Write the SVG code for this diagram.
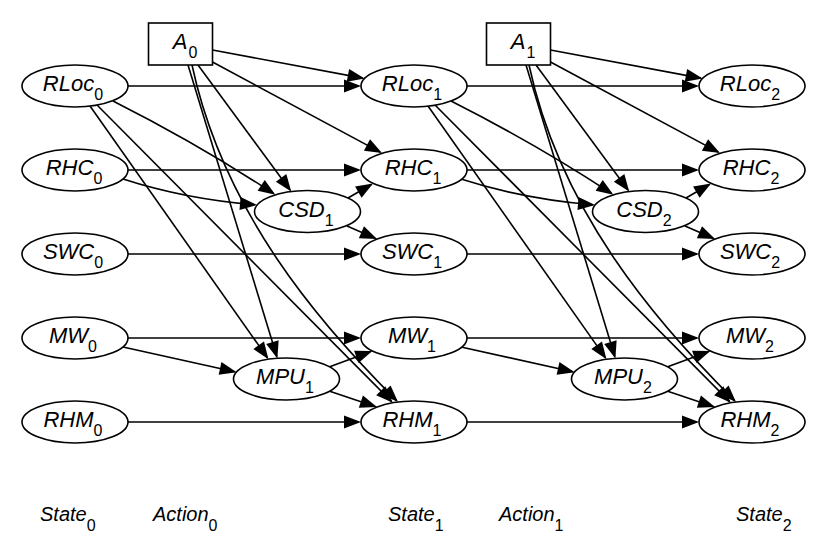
<svg xmlns="http://www.w3.org/2000/svg" width="830" height="554" viewBox="0 0 830 554">
<style>
  .node ellipse, .node rect { fill:#fff; stroke:#000; stroke-width:1.6; }
  .lbl { font-family:"Liberation Sans", Arial, Helvetica, sans-serif; font-style:italic; font-size:22px; text-anchor:middle; fill:#000; }
  .sub { font-size:16px; font-style:normal; }
  .cap { font-family:"Liberation Sans", Arial, Helvetica, sans-serif; font-style:italic; font-size:20px; fill:#000; }
  .edge { fill:none; stroke:#000; stroke-width:1.6; marker-end:url(#ah); }
</style>
<defs>
  <marker id="ah" viewBox="-16 -8 19 16" refX="0" refY="0" markerWidth="19" markerHeight="16" markerUnits="userSpaceOnUse" orient="auto">
    <path d="M2,0 L-15,-6.5 L-15,6.5 Z" fill="#000"/>
  </marker>
</defs>
<rect width="830" height="554" fill="#fff"/>

<g id="connectors">
  <g id="slice0-edges">
    <path class="edge" d="M212.5,50 L362.7,78.1"/>
    <path class="edge" d="M128,86 L359,86"/>
    <path class="edge" d="M212.5,62 L380.2,152.1"/>
    <path class="edge" d="M198,65 L290,190"/>
    <path class="edge" d="M188,65 L276.8,356.5"/>
    <path class="edge" d="M192,65 C223.5,212 318.8,322.8 396.6,400.6"/>
    <path class="edge" d="M90,106 L267.3,357.6"/>
    <path class="edge" d="M97,105 L391.4,401.4"/>
    <path class="edge" d="M113,101 Q200,145 273.7,193.7"/>
    <path class="edge" d="M128,170 L359,170"/>
    <path class="edge" d="M123,179 Q185,199 255,204.8"/>
    <path class="edge" d="M348,198 L371.3,184.5"/>
    <path class="edge" d="M347,226 L375.2,238.2"/>
    <path class="edge" d="M128,254 L359,254"/>
    <path class="edge" d="M128,338 L359,338"/>
    <path class="edge" d="M123,347 L234.7,371.7"/>
    <path class="edge" d="M329,367 L370.4,351.7"/>
    <path class="edge" d="M329,391 L375.1,406.4"/>
    <path class="edge" d="M128,422 L359,422"/>
  </g>
  <g id="slice1-edges" transform="translate(338,0)">
    <path class="edge" d="M212.5,50 L362.7,78.1"/>
    <path class="edge" d="M128,86 L359,86"/>
    <path class="edge" d="M212.5,62 L380.2,152.1"/>
    <path class="edge" d="M198,65 L290,190"/>
    <path class="edge" d="M188,65 L276.8,356.5"/>
    <path class="edge" d="M191,65 C222.5,212 318.8,322.8 396.6,400.6"/>
    <path class="edge" d="M90,106 L267.3,357.6"/>
    <path class="edge" d="M97,105 L391.4,401.4"/>
    <path class="edge" d="M113,101 Q200,145 273.7,193.7"/>
    <path class="edge" d="M128,170 L359,170"/>
    <path class="edge" d="M123,179 Q185,199 255,204.8"/>
    <path class="edge" d="M348,198 L371.3,184.5"/>
    <path class="edge" d="M347,226 L375.2,238.2"/>
    <path class="edge" d="M128,254 L359,254"/>
    <path class="edge" d="M128,338 L359,338"/>
    <path class="edge" d="M123,347 L234.7,371.7"/>
    <path class="edge" d="M329,367 L370.4,351.7"/>
    <path class="edge" d="M329,391 L375.1,406.4"/>
    <path class="edge" d="M128,422 L359,422"/>
  </g>
</g>

<g id="A0" class="node"><rect x="148.5" y="23" width="64" height="42"/><text class="lbl" x="185" y="49">A<tspan class="sub" dx="1" dy="9">0</tspan></text></g>
<g id="A1" class="node"><rect x="486.5" y="23" width="64" height="42"/><text class="lbl" x="523" y="49">A<tspan class="sub" dx="1" dy="9">1</tspan></text></g>

<g id="RLoc0" class="node"><ellipse cx="75" cy="86" rx="53" ry="21"/><text class="lbl" x="73" y="91">RLoc<tspan class="sub" dy="9">0</tspan></text></g>
<g id="RHC0" class="node"><ellipse cx="75" cy="170" rx="53" ry="21"/><text class="lbl" x="74" y="175">RHC<tspan class="sub" dy="9">0</tspan></text></g>
<g id="SWC0" class="node"><ellipse cx="75" cy="254" rx="53" ry="21"/><text class="lbl" x="73" y="259">SWC<tspan class="sub" dy="9">0</tspan></text></g>
<g id="MW0" class="node"><ellipse cx="75" cy="338" rx="53" ry="21"/><text class="lbl" x="73" y="343">MW<tspan class="sub" dy="9">0</tspan></text></g>
<g id="RHM0" class="node"><ellipse cx="75" cy="422" rx="53" ry="21"/><text class="lbl" x="73" y="427">RHM<tspan class="sub" dy="9">0</tspan></text></g>

<g id="CSD1" class="node"><ellipse cx="307.5" cy="211.5" rx="53" ry="21"/><text class="lbl" x="306" y="216.5">CSD<tspan class="sub" dy="9">1</tspan></text></g>
<g id="MPU1" class="node"><ellipse cx="286.5" cy="379" rx="53" ry="21"/><text class="lbl" x="285" y="384">MPU<tspan class="sub" dy="9">1</tspan></text></g>

<g id="RLoc1" class="node"><ellipse cx="414" cy="86" rx="53" ry="21"/><text class="lbl" x="412" y="91">RLoc<tspan class="sub" dy="9">1</tspan></text></g>
<g id="RHC1" class="node"><ellipse cx="414" cy="170" rx="53" ry="21"/><text class="lbl" x="413" y="175">RHC<tspan class="sub" dy="9">1</tspan></text></g>
<g id="SWC1" class="node"><ellipse cx="414" cy="254" rx="53" ry="21"/><text class="lbl" x="412" y="259">SWC<tspan class="sub" dy="9">1</tspan></text></g>
<g id="MW1" class="node"><ellipse cx="414" cy="338" rx="53" ry="21"/><text class="lbl" x="412" y="343">MW<tspan class="sub" dy="9">1</tspan></text></g>
<g id="RHM1" class="node"><ellipse cx="414" cy="422" rx="53" ry="21"/><text class="lbl" x="412" y="427">RHM<tspan class="sub" dy="9">1</tspan></text></g>

<g id="CSD2" class="node"><ellipse cx="645.5" cy="211.5" rx="53" ry="21"/><text class="lbl" x="644" y="216.5">CSD<tspan class="sub" dy="9">2</tspan></text></g>
<g id="MPU2" class="node"><ellipse cx="624.5" cy="379" rx="53" ry="21"/><text class="lbl" x="623" y="384">MPU<tspan class="sub" dy="9">2</tspan></text></g>

<g id="RLoc2" class="node"><ellipse cx="752" cy="86" rx="53" ry="21"/><text class="lbl" x="750" y="91">RLoc<tspan class="sub" dy="9">2</tspan></text></g>
<g id="RHC2" class="node"><ellipse cx="752" cy="170" rx="53" ry="21"/><text class="lbl" x="751" y="175">RHC<tspan class="sub" dy="9">2</tspan></text></g>
<g id="SWC2" class="node"><ellipse cx="752" cy="254" rx="53" ry="21"/><text class="lbl" x="750" y="259">SWC<tspan class="sub" dy="9">2</tspan></text></g>
<g id="MW2" class="node"><ellipse cx="752" cy="338" rx="53" ry="21"/><text class="lbl" x="750" y="343">MW<tspan class="sub" dy="9">2</tspan></text></g>
<g id="RHM2" class="node"><ellipse cx="752" cy="422" rx="53" ry="21"/><text class="lbl" x="750" y="427">RHM<tspan class="sub" dy="9">2</tspan></text></g>

<g id="captions">
  <text class="cap" x="40" y="521">State<tspan class="sub" dy="10">0</tspan></text>
  <text class="cap" x="153" y="521">Action<tspan class="sub" dy="10">0</tspan></text>
  <text class="cap" x="388" y="521">State<tspan class="sub" dy="10">1</tspan></text>
  <text class="cap" x="499" y="521">Action<tspan class="sub" dy="10">1</tspan></text>
  <text class="cap" x="736" y="521">State<tspan class="sub" dy="10">2</tspan></text>
</g>
</svg>
